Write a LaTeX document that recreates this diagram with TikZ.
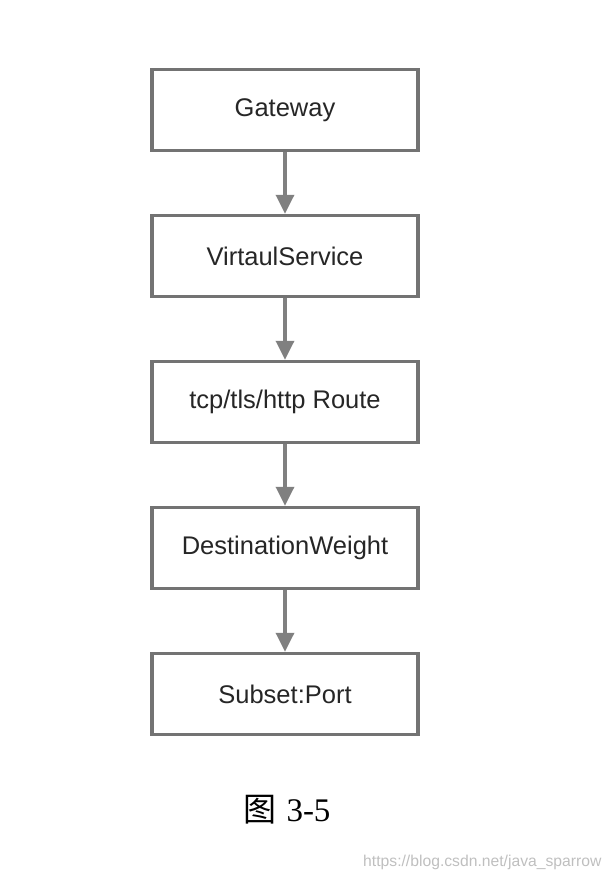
\documentclass[tikz,border=0pt]{standalone}
\usepackage{fontspec}
\setmainfont{Liberation Sans}
\newfontfamily\cjk{Noto Sans CJK SC}
\newfontfamily\capfont{Liberation Serif}
\usetikzlibrary{arrows.meta}

\begin{document}
\begin{tikzpicture}[x=1pt,y=-1pt,node distance=146pt,
  box/.style={draw=black!55,line width=3.5pt,fill=white,minimum width=266pt,
    minimum height=81pt,inner sep=0pt,font=\fontsize{25.5}{30}\selectfont,text=black!85},
  flow/.style={draw=black!50,line width=3.5pt,-{Triangle[length=19pt,width=18pt]}}]

\useasboundingbox (0,0) rectangle (614,880);

\node[box] (gw) at (285,110) {Gateway};
\node[box] (vs) [below of=gw] {VirtaulService};
\node[box] (rt) [below of=vs] {tcp/tls/http Route};
\node[box] (dw) [below of=rt] {DestinationWeight};
\node[box] (sp) [below of=dw] {Subset:Port};

\draw[flow] (gw) -- (vs);
\draw[flow] (vs) -- (rt);
\draw[flow] (rt) -- (dw);
\draw[flow] (dw) -- (sp);

\node (cap) at (287,810) {\fontsize{33}{36}\selectfont{\cjk 图}\hspace{10pt}\capfont 3-5};
\node[text=black!25,anchor=east] (wm) at (605,862)
  {\fontsize{15.7}{18}\selectfont https://blog.csdn.net/java\_sparrow};

\end{tikzpicture}
\end{document}
